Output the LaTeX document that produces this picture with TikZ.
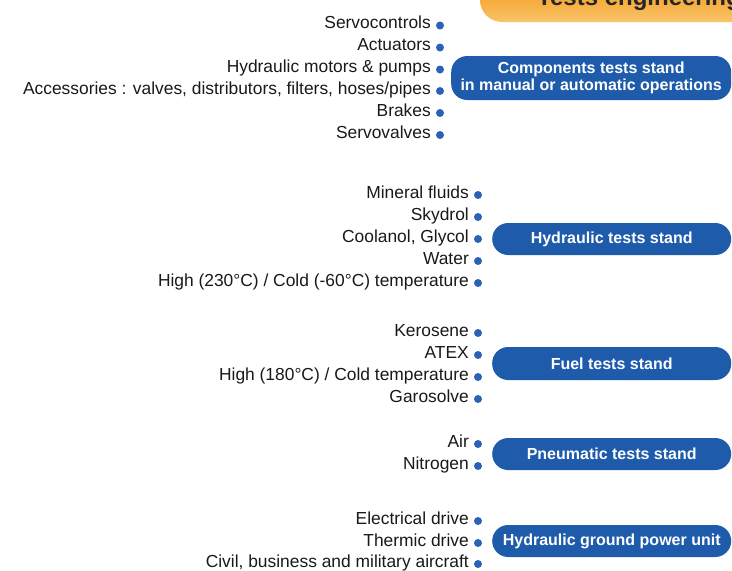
\documentclass[tikz,border=0pt]{standalone}
\usepackage{fontspec}
\setmainfont{Liberation Sans}
\definecolor{boxblue}{HTML}{1E5BAA}
\definecolor{dotblue}{HTML}{2A63B6}
\definecolor{orA}{HTML}{F4A12A}
\definecolor{orB}{HTML}{F9C46A}
\begin{document}
\begin{tikzpicture}[x=1pt,y=-1pt,
  item/.style={anchor=base east,inner sep=0pt,font=\fontsize{17.4}{19}\selectfont,text=black!90},
  bullet/.style={circle,fill=dotblue,inner sep=0pt,minimum size=8pt},
  standbox/.style={rectangle,rounded corners=16pt,fill=boxblue,text=white,
     font=\bfseries\fontsize{16}{17.5}\selectfont,align=center,inner sep=0pt,anchor=west}]
\useasboundingbox (0,0) rectangle (732,571);
\begin{scope}
\clip (0,0) rectangle (732,571);
\shade[top color=orA,bottom color=orB,middle color=orA,rounded corners=22pt] (480,-40) rectangle (780,22);
\node[anchor=base west,inner sep=0pt,font=\bfseries\fontsize{24}{26}\selectfont,text=black!85] (title) at (537,5) {Tests engineering};
\end{scope}
% section 1
\foreach \t/\y [count=\i] in {{Servocontrols}/25.5,{Actuators}/47.5,{Hydraulic motors \& pumps}/69.5,{Accessories : valves, distributors, filters, hoses{/}pipes}/91,{Brakes}/113,{Servovalves}/135}{
  \node[bullet] (da\i) at (440,\y) {};
  \node[item] (ta\i) at (431,\y+3) {\t};
}
\node[standbox,minimum width=280pt,minimum height=44pt] (comp) at (451,78) {Components tests stand\\in manual or automatic operations};
% section 2
\foreach \t/\y [count=\i] in {{Mineral fluids}/195,{Skydrol}/217,{Coolanol, Glycol}/239,{Water}/261,{High (230°C) {/} Cold (-60°C) temperature}/283}{
  \node[bullet] (db\i) at (478,\y) {};
  \node[item] (tb\i) at (469,\y+3) {\t};
}
\node[standbox,minimum width=239pt,minimum height=32pt] (hyd) at (492,239) {Hydraulic tests stand};
% section 3
\foreach \t/\y [count=\i] in {{Kerosene}/333,{ATEX}/355,{High (180°C) {/} Cold temperature}/377,{Garosolve}/399}{
  \node[bullet] (dc\i) at (478,\y) {};
  \node[item] (tc\i) at (469,\y+3) {\t};
}
\node[standbox,minimum width=239pt,minimum height=33pt] (fuel) at (492,363.5) {Fuel tests stand};
% section 4
\foreach \t/\y [count=\i] in {{Air}/444,{Nitrogen}/466}{
  \node[bullet] (dd\i) at (478,\y) {};
  \node[item] (td\i) at (469,\y+3) {\t};
}
\node[standbox,minimum width=239pt,minimum height=32pt] (pneu) at (492,454) {Pneumatic tests stand};
% section 5
\foreach \t/\y [count=\i] in {{Electrical drive}/521,{Thermic drive}/543,{Civil, business and military aircraft}/564}{
  \node[bullet] (de\i) at (478,\y) {};
  \node[item] (te\i) at (469,\y+3) {\t};
}
\node[standbox,minimum width=239pt,minimum height=32pt] (gpu) at (492,541) {Hydraulic ground power unit};
\end{tikzpicture}
\end{document}
